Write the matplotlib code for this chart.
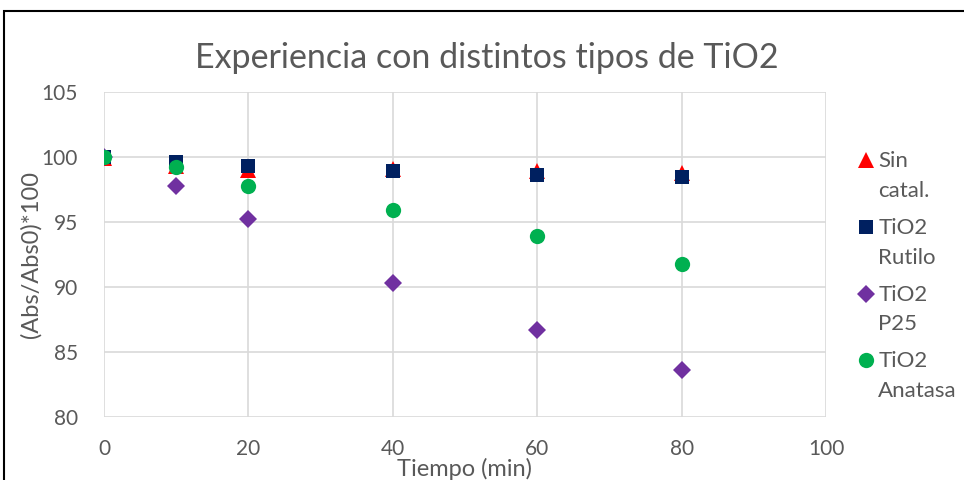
import matplotlib
matplotlib.use("Agg")
import matplotlib.pyplot as plt
from matplotlib.patches import Rectangle

# ---------------------------------------------------------------------------
# Data
# ---------------------------------------------------------------------------
tiempo = [0, 10, 20, 40, 60, 80]
sin_catal = [99.9, 99.3, 99.0, 99.1, 98.9, 98.8]
tio2_rutilo = [100.0, 99.6, 99.3, 98.9, 98.6, 98.5]
tio2_p25 = [100.0, 97.8, 95.2, 90.3, 86.7, 83.6]
tio2_anatasa = [100.0, 99.2, 97.8, 95.9, 93.9, 91.8]

series = [
    ("Sin\ncatal.", sin_catal, "^", "#FF0000", 11.5),
    ("TiO2\nRutilo", tio2_rutilo, "s", "#002060", 10.5),
    ("TiO2\nP25", tio2_p25, "D", "#7030A0", 9.5),
    ("TiO2\nAnatasa", tio2_anatasa, "o", "#00B050", 11),
]

TEXT = "#595959"
GRID = "#D9D9D9"

plt.rcParams["font.family"] = ["Lato", "DejaVu Sans"]

fig = plt.figure(figsize=(9.64, 4.8), dpi=100)
ax = fig.add_axes([0.1079, 0.1313, 0.8568 - 0.1079, 0.8083 - 0.1313])

for label, vals, marker, color, ms in series:
    ax.plot(tiempo, vals, linestyle="none", marker=marker, color=color,
            markersize=ms, markeredgewidth=0, label=label, zorder=3)

ax.set_xlim(0, 100)
ax.set_ylim(80, 105)
ax.set_xticks(range(0, 101, 20))
ax.set_yticks(range(80, 106, 5))
ax.grid(True, color=GRID, linewidth=1.2)
ax.set_axisbelow(True)
for s in ax.spines.values():
    s.set_visible(False)
ax.tick_params(length=0, labelsize=15, colors=TEXT)
ax.tick_params(axis="x", pad=16)
ax.tick_params(axis="y", pad=19)

ax.set_title("Experiencia con distintos tipos de TiO2", fontsize=24.5,
             color=TEXT, pad=17, x=0.53)
ax.set_xlabel("Tiempo (min)", fontsize=17, color=TEXT)
ax.xaxis.set_label_coords(0.5, -0.125)
ax.set_ylabel("(Abs/Abs0)*100", fontsize=17, color=TEXT)
ax.yaxis.set_label_coords(-0.086, 0.5)

leg = ax.legend(loc="upper left", bbox_to_anchor=(1.034, 0.845), frameon=False,
                fontsize=16, labelcolor=TEXT, handlelength=0.6,
                handletextpad=0.25, labelspacing=0.77, borderaxespad=0)
for t in leg.get_texts():
    t.set_linespacing(1.6)
# keep each key beside the first line of its two-line label
for h in leg.legend_handles:
    h.set_ydata([y + 11.5 for y in h.get_ydata()])

# outer frame of the pasted chart
fig.add_artist(Rectangle((4 / 964, -0.1), 1.2, 1.1 - 10.5 / 480,
                         transform=fig.transFigure, fill=False,
                         edgecolor="black", linewidth=1.5))

fig.savefig("out.png", dpi=100)
